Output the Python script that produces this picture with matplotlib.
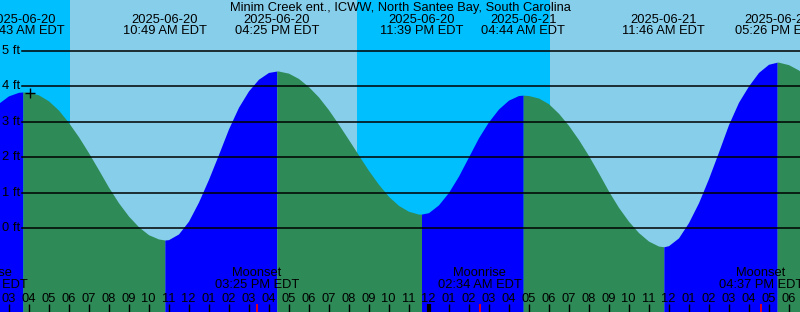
import matplotlib
matplotlib.use('Agg')
import matplotlib.pyplot as plt
import matplotlib.transforms as mtransforms
import numpy as np

plt.rcParams['font.family'] = ['Liberation Sans', 'DejaVu Sans']

# times are hours after 2025-06-20 00:00 EDT
title = 'Minim Creek ent., ICWW, North Santee Bay, South Carolina'
extreme_hours = [3.717, 10.817, 16.417, 23.650, 28.733, 35.767, 41.433]
extreme_dates = ['2025-06-20', '2025-06-20', '2025-06-20', '2025-06-20',
                 '2025-06-21', '2025-06-21', '2025-06-21']
extreme_times = ['03:43 AM EDT', '10:49 AM EDT', '04:25 PM EDT', '11:39 PM EDT',
                 '04:44 AM EDT', '11:46 AM EDT', '05:26 PM EDT']

# tide height (ft), every half hour plus the extremes
curve_hours = [2.5, 3.0, 3.5, 3.717, 4.0, 4.5, 5.0, 5.5, 6.0, 6.5, 7.0, 7.5,
               8.0, 8.5, 9.0, 9.5, 10.0, 10.5, 10.817, 11.0, 11.5, 12.0, 12.5,
               13.0, 13.5, 14.0, 14.5, 15.0, 15.5, 16.0, 16.417, 16.5, 17.0,
               17.5, 18.0, 18.5, 19.0, 19.5, 20.0, 20.5, 21.0, 21.5, 22.0, 22.5,
               23.0, 23.5, 23.65, 24.0, 24.5, 25.0, 25.5, 26.0, 26.5, 27.0,
               27.5, 28.0, 28.5, 28.733, 29.0, 29.5, 30.0, 30.5, 31.0, 31.5,
               32.0, 32.5, 33.0, 33.5, 34.0, 34.5, 35.0, 35.5, 35.767, 36.0,
               36.5, 37.0, 37.5, 38.0, 38.5, 39.0, 39.5, 40.0, 40.5, 41.0,
               41.433, 41.5, 42.0, 42.5, 43.0]
curve_ft = [3.52, 3.73, 3.83, 3.84, 3.83, 3.76, 3.59, 3.33, 2.98, 2.58, 2.13, 1.65,
            1.16, 0.72, 0.345, 0.044, -0.18, -0.30, -0.33, -0.32, -0.16, 0.20, 0.74,
            1.38, 2.08, 2.80, 3.41, 3.87, 4.20, 4.39, 4.43, 4.43, 4.37,
            4.22, 3.99, 3.70, 3.34, 2.93, 2.50, 2.065, 1.63, 1.24, 0.90, 0.645,
            0.48, 0.40, 0.40, 0.44, 0.66, 1.01, 1.47, 2.01, 2.55, 3.00,
            3.36, 3.61, 3.74, 3.75, 3.74, 3.67, 3.51, 3.24, 2.90, 2.50,
            2.05, 1.56, 1.05, 0.59, 0.20, -0.12, -0.36, -0.50, -0.52, -0.49,
            -0.27, 0.16, 0.72, 1.40, 2.15, 2.92, 3.55, 4.01, 4.39, 4.62,
            4.68, 4.68, 4.61, 4.46, 4.21]

sunrise_hours = [6.08, 30.08]
sunset_hours = [20.42]

moon_hours = [1.867, 15.417, 26.567, 40.617]
moon_names = ['Moonrise', 'Moonset', 'Moonrise', 'Moonset']
moon_times = ['01:52 AM EDT', '03:25 PM EDT', '02:34 AM EDT', '04:37 PM EDT']

levels = [0, 1, 2, 3, 4, 5]
now_hour, now_ft = 4.075, 3.80

x0, x1 = 2.575, 42.575
y0, y1 = -2.358, 6.431

day = '#87ceeb'
night = '#00bfff'
rising = '#0000ff'
falling = '#2e8b57'
fs = 9.3

fig = plt.figure(figsize=(8, 3.12), dpi=100)
ax = fig.add_axes([0, 0, 1, 1])
ax.set_xlim(x0, x1)
ax.set_ylim(y0, y1)
ax.set_facecolor(day)
for s in ax.spines.values():
    s.set_visible(False)

# night shading
ax.axvspan(x0 - 5, sunrise_hours[0], color=night, lw=0)
ax.axvspan(sunset_hours[0], sunrise_hours[1], color=night, lw=0)

# water: blue while rising, green while falling
t = np.array(curve_hours)
h = np.array(curve_ft)
bounds = [t[0]] + extreme_hours + [t[-1]]
for a, b in zip(bounds[:-1], bounds[1:]):
    m = (t >= a) & (t <= b)
    seg_t, seg_h = t[m], h[m]
    col = rising if seg_h[-1] > seg_h[0] else falling
    ax.fill_between(seg_t, seg_h, y0 - 1, color=col, lw=0)

# level lines and labels
ytr = mtransforms.blended_transform_factory(ax.transAxes, ax.transData)
for lv in levels:
    ax.axhline(lv, xmin=22 / 800, xmax=1, color='black', lw=1.1)
    ax.text(20 / 800, lv, f'{lv} ft', transform=ytr, ha='right', va='center',
            fontsize=fs)

ax.plot([now_hour], [now_ft], marker='+', color='black', ms=7, mew=1)

# top labels
xtr = mtransforms.blended_transform_factory(ax.transData, ax.transAxes)
ax.text(0.5, 1 - 7.5 / 312, title, transform=ax.transAxes, ha='center',
        va='center', fontsize=fs)
for hr, d, tm in zip(extreme_hours, extreme_dates, extreme_times):
    ax.text(hr, 1 - 20 / 312, d, transform=xtr, ha='center', va='center', fontsize=fs)
    ax.text(hr, 1 - 31.5 / 312, tm, transform=xtr, ha='center', va='center', fontsize=fs)

# moon events
for hr, nm, tm in zip(moon_hours, moon_names, moon_times):
    ax.text(hr, 38.5 / 312, nm, transform=xtr, ha='center', va='center', fontsize=fs)
    ax.text(hr, 26.5 / 312, tm, transform=xtr, ha='center', va='center', fontsize=fs)
    ax.vlines(hr, 0, 8 / 312, transform=xtr, color='red', lw=1.2)

# hour ticks
hours = np.arange(3, 43)
ax.set_xticks(hours)
ax.set_xticklabels([f'{(int(k) % 12) or 12:02d}' for k in hours])
ax.tick_params(axis='x', direction='in', length=5.5, width=1, color='black',
               pad=-14, labelsize=fs)
ax.set_yticks([])
ax.vlines(24, 0, 8 / 312, transform=xtr, color='black', lw=3)

fig.savefig('out.png', dpi=100)
